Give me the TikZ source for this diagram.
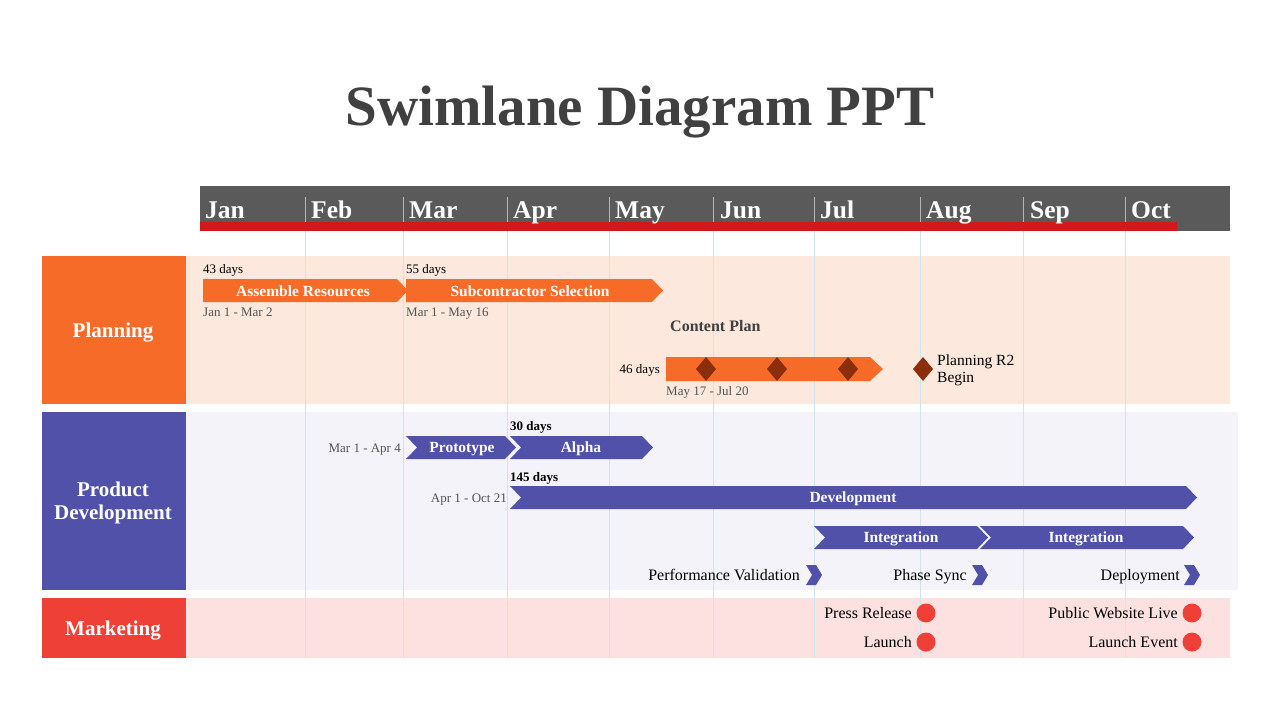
\documentclass[tikz,border=0pt]{standalone}
\usepackage{fontspec}
\setmainfont{Liberation Serif}
\usepackage{tikz}
\usetikzlibrary{positioning,calc}

\definecolor{planorange}{HTML}{F76B28}
\definecolor{devpurple}{HTML}{5151A9}
\definecolor{mktred}{HTML}{EE4036}
\definecolor{planbg}{HTML}{FCE8DD}
\definecolor{devbg}{HTML}{F4F3F9}
\definecolor{mktbg}{HTML}{FDE1E1}
\definecolor{headgray}{HTML}{5A5A5A}
\definecolor{headred}{HTML}{D2181A}
\definecolor{gridblue}{HTML}{CFE5EC}
\definecolor{darkdiamond}{HTML}{8A2E0B}
\definecolor{titlegray}{HTML}{404040}
\definecolor{dategray}{HTML}{555555}

\tikzset{
  capbox/.style={inner sep=0pt, text height=0.66em, text depth=0pt, yshift=-1.8pt},
  lanetext/.style={text=white, align=center, inner sep=0pt, font=\fontsize{21}{23}\selectfont\bfseries},
  monthtext/.style={text=white, anchor=base west, inner sep=0pt, font=\fontsize{25.5}{28}\selectfont\bfseries},
  bartext/.style={capbox, text=white, font=\fontsize{15.5}{17}\selectfont\bfseries},
  daystext/.style={capbox, font=\fontsize{13}{15}\selectfont},
  datetext/.style={capbox, text=dategray, font=\fontsize{13}{15}\selectfont},
  mstext/.style={capbox, anchor=east, font=\fontsize{16}{18}\selectfont},
  gridline/.style={gridblue, line width=0.8pt},
  headline/.style={white!55!headgray, line width=0.8pt},
}

\begin{document}
\begin{tikzpicture}[x=1pt,y=-1pt]
\useasboundingbox (0,0) rectangle (1280,720);
\def\tip{11}
% title
\node (title) at (640,125) [anchor=base, inner sep=0pt, text=titlegray,
  font=\fontsize{57}{60}\selectfont\bfseries] {Swimlane Diagram PPT};
% header
\fill[headgray] (200,186) rectangle (1230,231);
\fill[headred] (200,222) rectangle (1177,231);
\draw[headline] (305,197) -- (305,222);
\draw[headline] (403,197) -- (403,222);
\draw[headline] (507,197) -- (507,222);
\draw[headline] (609,197) -- (609,222);
\draw[headline] (713,197) -- (713,222);
\draw[headline] (814,197) -- (814,222);
\draw[headline] (920,197) -- (920,222);
\draw[headline] (1023,197) -- (1023,222);
\draw[headline] (1125,197) -- (1125,222);
\node (jan) at (205,218) [monthtext] {Jan};
\node (feb) at (311,218) [monthtext] {Feb};
\node (mar) at (409,218) [monthtext] {Mar};
\node (apr) at (513,218) [monthtext] {Apr};
\node (may) at (615,218) [monthtext] {May};
\node (jun) at (720,218) [monthtext] {Jun};
\node (jul) at (820,218) [monthtext] {Jul};
\node (aug) at (926,218) [monthtext] {Aug};
\node (sep) at (1030,218) [monthtext] {Sep};
\node (oct) at (1131,218) [monthtext] {Oct};
% lanes
\fill[planorange] (42,256) rectangle (186,404);
\fill[planbg] (186,256) rectangle (1230,404);
\fill[devpurple] (42,412) rectangle (186,590);
\fill[devbg] (186,412) rectangle (1238,590);
\fill[mktred] (42,598) rectangle (186,658);
\fill[mktbg] (186,598) rectangle (1230,658);
\node (planning) at (113,333) [lanetext] {Planning};
\node (product) at (113,503) [lanetext] {Product\\Development};
\node (marketing) at (113,631) [lanetext] {Marketing};
% month grid
\draw[gridline] (305,231) -- (305,658);
\draw[gridline] (403,231) -- (403,658);
\draw[gridline] (507,231) -- (507,658);
\draw[gridline] (609,231) -- (609,658);
\draw[gridline] (713,231) -- (713,658);
\draw[gridline] (814,231) -- (814,658);
\draw[gridline] (920,231) -- (920,658);
\draw[gridline] (1023,231) -- (1023,658);
\draw[gridline] (1125,231) -- (1125,658);
% planning lane
\fill[planorange] (203,279) -- (408-\tip,279) -- (408,290.5) -- (408-\tip,302) -- (203,302) -- cycle;
\fill[planorange] (406,279) -- (663-\tip,279) -- (663,290.5) -- (663-\tip,302) -- (406,302) -- cycle;
\node (assemble) at (303,291) [bartext] {Assemble Resources};
\node (subcon) at (530,291) [bartext] {Subcontractor Selection};
\node (d43) at (203,268) [daystext, anchor=west] {43 days};
\node (d55) at (406,268) [daystext, anchor=west] {55 days};
\node (janmar) at (203,311) [datetext, anchor=west] {Jan 1 - Mar 2};
\node (marmay) at (406,311) [datetext, anchor=west] {Mar 1 - May 16};
\node (content) at (670,326) [capbox, anchor=west, text=titlegray,
  font=\fontsize{16}{18}\selectfont\bfseries] {Content Plan};
\fill[planorange] (666,357) -- (883-13,357) -- (883,369) -- (883-13,381) -- (666,381) -- cycle;
\fill[darkdiamond] (706,357) -- (716,369) -- (706,381) -- (696,369) -- cycle;
\fill[darkdiamond] (777,357) -- (787,369) -- (777,381) -- (767,369) -- cycle;
\fill[darkdiamond] (848,357) -- (858,369) -- (848,381) -- (838,369) -- cycle;
\node (d46) at (660,368) [daystext, anchor=east] {46 days};
\node (mayjul) at (666,390) [datetext, anchor=west] {May 17 - Jul 20};
\fill[darkdiamond] (923,357) -- (933,369) -- (923,381) -- (913,369) -- cycle;
\node (r2) at (937,370) [anchor=west, align=left, inner sep=0pt,
  font=\fontsize{15.5}{17}\selectfont] {Planning R2\\Begin};
% product development lane
\fill[devpurple] (406,436) -- (516-\tip,436) -- (516,447.5) -- (516-\tip,459) -- (406,459) -- (406+\tip,447.5) -- cycle;
\fill[devpurple] (510,436) -- (653-\tip,436) -- (653,447.5) -- (653-\tip,459) -- (510,459) -- (510+\tip,447.5) -- cycle;
\node (proto) at (462,447.5) [bartext] {Prototype};
\node (alpha) at (581,447.5) [bartext] {Alpha};
\node (marapr) at (401,447.5) [datetext, anchor=east] {Mar 1 - Apr 4};
\node (d30) at (510,425) [daystext, anchor=west, font=\fontsize{13}{15}\selectfont\bfseries] {30 days};
\fill[devpurple] (510,486) -- (1197-\tip,486) -- (1197,497.5) -- (1197-\tip,509) -- (510,509) -- (510+\tip,497.5) -- cycle;
\node (devel) at (853,497.5) [bartext] {Development};
\node (d145) at (510,476) [daystext, anchor=west, font=\fontsize{13}{15}\selectfont\bfseries] {145 days};
\node (aproct) at (507,497.5) [datetext, anchor=east] {Apr 1 - Oct 21};
\fill[devpurple] (814,526) -- (988-\tip,526) -- (988,537.5) -- (988-\tip,549) -- (814,549) -- (814+\tip,537.5) -- cycle;
\fill[devpurple] (980,526) -- (1194-\tip,526) -- (1194,537.5) -- (1194-\tip,549) -- (980,549) -- (980+\tip,537.5) -- cycle;
\node (integ1) at (901,537.5) [bartext] {Integration};
\node (integ2) at (1086,537.5) [bartext] {Integration};
\fill[devpurple] (806,565) -- (816,565) -- (822,575) -- (816,585) -- (806,585) -- (812,575) -- cycle;
\fill[devpurple] (972,565) -- (982,565) -- (988,575) -- (982,585) -- (972,585) -- (978,575) -- cycle;
\fill[devpurple] (1184,565) -- (1194,565) -- (1200,575) -- (1194,585) -- (1184,585) -- (1190,575) -- cycle;
\node (perf) at (800,575) [mstext] {Performance Validation};
\node (phase) at (967,575) [mstext] {Phase Sync};
\node (deploy) at (1180,575) [mstext] {Deployment};
% marketing lane
\fill[mktred] (926,613) circle (9.5);
\fill[mktred] (926,642) circle (9.5);
\fill[mktred] (1192,613) circle (9.5);
\fill[mktred] (1192,642) circle (9.5);
\node (press) at (912,613) [mstext] {Press Release};
\node (launch) at (912,642) [mstext] {Launch};
\node (website) at (1178,613) [mstext] {Public Website Live};
\node (event) at (1178,642) [mstext] {Launch Event};
\end{tikzpicture}
\end{document}
